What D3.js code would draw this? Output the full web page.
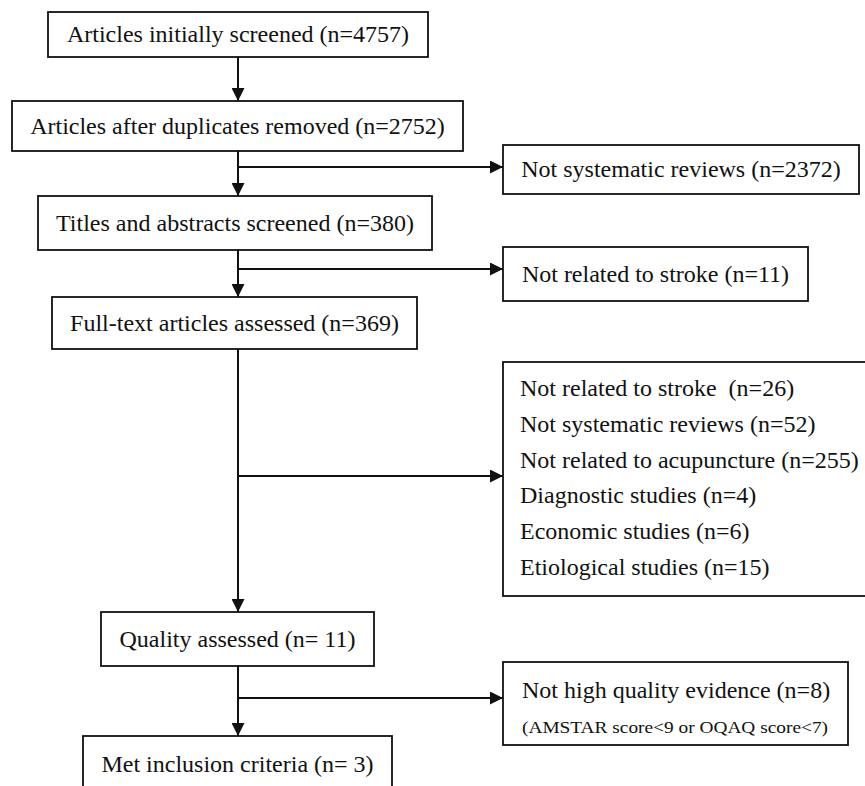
<!DOCTYPE html>
<html>
<head>
<meta charset="utf-8">
<script src="https://cdn.jsdelivr.net/npm/d3@7"></script>
<style>
  html, body { margin: 0; padding: 0; background: #fff; }
  svg { display: block; }
  text { font-family: "Liberation Serif", "Times New Roman", "DejaVu Serif", serif; fill: #111; white-space: pre; }
</style>
</head>
<body>
<div id="chart"></div>
<script>
// main flow steps
var STEPS = ["Articles initially screened", "Articles after duplicates removed", "Titles and abstracts screened",
	"Full-text articles assessed", "Quality assessed", "Met inclusion criteria"];
var STEP_N = [4757, 2752, 380, 369, 11, 3];
var STEP_SEP = ["=", "=", "=", "=", "= ", "= "];

// exclusions leaving the flow after step i
var EXCL_AFTER = [1, 2, 3, 4];
var EXCL_1 = ["Not systematic reviews"], EXCL_1_N = [2372];
var EXCL_2 = ["Not related to stroke"], EXCL_2_N = [11];
var EXCL_3 = ["Not related to stroke ", "Not systematic reviews", "Not related to acupuncture",
	"Diagnostic studies", "Economic studies", "Etiological studies"];
var EXCL_3_N = [26, 52, 255, 4, 6, 15];
var EXCL_4 = ["Not high quality evidence"], EXCL_4_N = [8];
var EXCL_4_NOTE = "(AMSTAR score<9 or OQAQ score<7)";

var W = 865, H = 786;
var FS = 24;
var svg = d3.select("#chart").append("svg").attr("width", W).attr("height", H);

svg.append("defs").append("marker")
	.attr("id", "arr")
	.attr("viewBox", "0 0 10 10")
	.attr("refX", 10).attr("refY", 5)
	.attr("markerUnits", "userSpaceOnUse")
	.attr("markerWidth", 13).attr("markerHeight", 13)
	.attr("orient", "auto")
	.append("path").attr("d", "M0,0L10,5L0,10Z").attr("fill", "#111");

// box geometry
var mainBox = [
	{x0: 48, x1: 428, y0: 12, y1: 57},
	{x0: 12, x1: 463, y0: 101, y1: 151},
	{x0: 38, x1: 432, y0: 196, y1: 250},
	{x0: 52, x1: 417, y0: 297, y1: 349},
	{x0: 101, x1: 374, y0: 612, y1: 666},
	{x0: 83, x1: 392, y0: 736, y1: 800}
];
var sideBox = [
	{x0: 503, x1: 859, y0: 145, y1: 194},
	{x0: 503, x1: 808, y0: 247, y1: 301},
	{x0: 503, x1: 870, y0: 362, y1: 596},
	{x0: 503, x1: 848, y0: 662, y1: 745}
];
var branchY = [167, 269, 476, 698];
var cx = 238;

function fmt(label, n, sep) { return label + " (n" + (sep || "=") + n + ")"; }

function box(b) {
	svg.append("rect")
		.attr("x", b.x0).attr("y", b.y0)
		.attr("width", b.x1 - b.x0).attr("height", b.y1 - b.y0)
		.attr("fill", "#fff").attr("stroke", "#111").attr("stroke-width", 1.8);
}

// connectors
var links = svg.append("g").attr("stroke", "#111").attr("stroke-width", 2).attr("fill", "none");
for (var i = 0; i < mainBox.length - 1; i++) {
	links.append("line")
		.attr("x1", cx).attr("y1", mainBox[i].y1)
		.attr("x2", cx).attr("y2", mainBox[i + 1].y0)
		.attr("marker-end", "url(#arr)");
}
EXCL_AFTER.forEach(function(s, k) {
	links.append("line")
		.attr("x1", cx).attr("y1", branchY[k])
		.attr("x2", sideBox[k].x0).attr("y2", branchY[k])
		.attr("marker-end", "url(#arr)");
});

// main boxes
mainBox.forEach(function(b, i) {
	box(b);
	var yc = i == mainBox.length - 1 ? 764 : (b.y0 + b.y1) / 2;
	svg.append("text")
		.attr("x", (b.x0 + b.x1) / 2)
		.attr("y", yc)
		.attr("dy", "0.33em")
		.attr("text-anchor", "middle")
		.attr("font-size", FS)
		.text(fmt(STEPS[i], STEP_N[i], STEP_SEP[i]));
});

// single-line exclusion boxes
[[EXCL_1, EXCL_1_N], [EXCL_2, EXCL_2_N]].forEach(function(e, k) {
	var b = sideBox[k];
	box(b);
	svg.append("text")
		.attr("x", (b.x0 + b.x1) / 2)
		.attr("y", (b.y0 + b.y1) / 2)
		.attr("dy", "0.33em")
		.attr("text-anchor", "middle")
		.attr("font-size", FS)
		.text(fmt(e[0][0], e[1][0]));
});

// multi-reason box
var b3 = sideBox[2];
box(b3);
var rowY = d3.scalePoint().domain(d3.range(EXCL_3.length)).range([388, 567]);
svg.append("g").selectAll("text")
	.data(EXCL_3)
	.join("text")
	.attr("x", 520)
	.attr("y", function(d, i) { return rowY(i); })
	.attr("dy", "0.33em")
	.attr("font-size", FS)
	.text(function(d, i) { return fmt(d, EXCL_3_N[i]); });

// quality box
var b4 = sideBox[3];
box(b4);
svg.append("text")
	.attr("x", 522).attr("y", 690).attr("dy", "0.33em")
	.attr("font-size", FS)
	.text(fmt(EXCL_4[0], EXCL_4_N[0]));
svg.append("text")
	.attr("x", 522).attr("y", 727).attr("dy", "0.33em")
	.attr("font-size", 17)
	.attr("textLength", 306)
	.attr("lengthAdjust", "spacingAndGlyphs")
	.text(EXCL_4_NOTE);
</script>
</body>
</html>
